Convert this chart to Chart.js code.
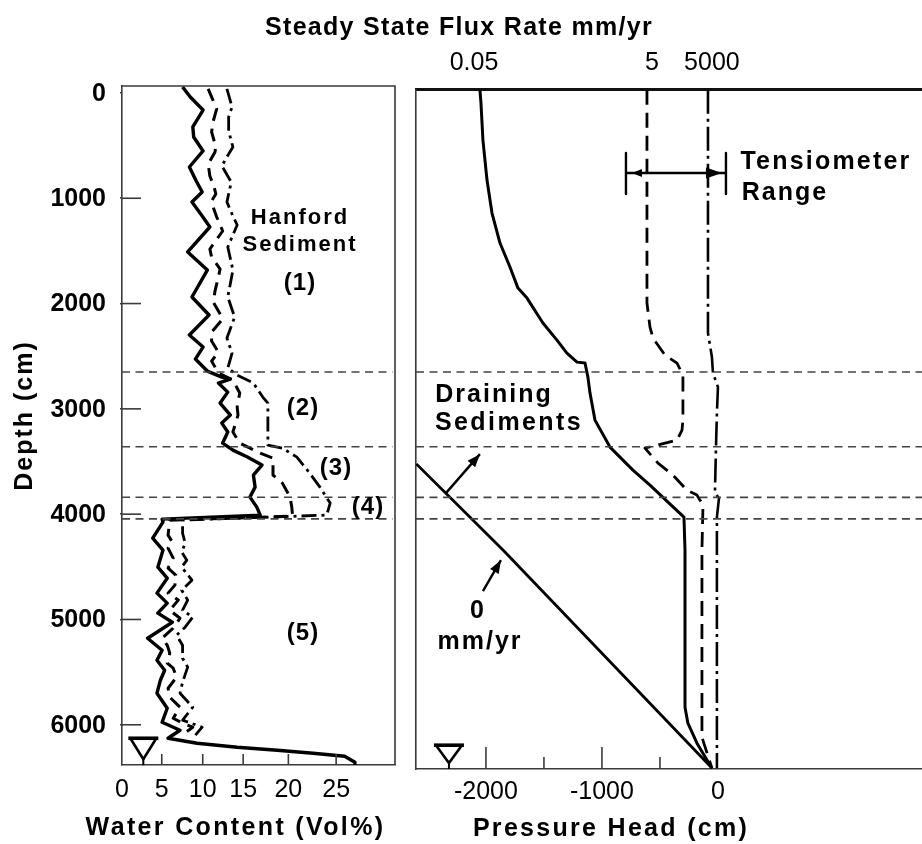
<!DOCTYPE html>
<html>
<head>
<meta charset="utf-8">
<style>
html,body{margin:0;padding:0;background:#fff;width:922px;height:844px;overflow:hidden}
canvas{position:absolute;left:0;top:0}
</style>
<script src="https://cdn.jsdelivr.net/npm/chart.js@4/dist/chart.umd.js"></script>
</head>
<body>
<canvas id="left" width="922" height="844"></canvas>
<canvas id="right" width="922" height="844"></canvas>
<script>
// ---- Left panel: water content (vol%) against depth (cm)
const wcLow = [7.1,8.0,9.5,8.3,8.4,9.5,7.9,8.7,9.4,8.2,9.4,10.3,7.7,10.0,8.2,10.2,7.9,9.5,8.6,10.0,11.7,12.7,11.3,12.4,11.5,12.7,11.7,12.4,11.8,13.0,14.7,16.4,15.4,15.6,15.0,15.8,16.2,4.7,4.8,3.6,4.8,4.2,5.3,4.1,5.3,4.2,5.9,3.0,4.7,4.1,5.0,4.5,4.1,5.3,4.7,6.8,5.4,8.8,13.5,18.2,22.4,26.1,27.3,27.3];
const depthLow = [-57,38,162,323,418,551,703,836,941,1036,1169,1273,1510,1682,1938,2109,2299,2413,2527,2641,2698,2717,2755,2841,2945,3059,3135,3220,3325,3392,3458,3534,3629,3743,3838,3933,4009,4047,4076,4228,4342,4503,4608,4750,4845,4940,5026,5178,5292,5387,5482,5577,5700,5843,5976,6052,6128,6175,6213,6242,6270,6299,6356,6384];
const wcMid = [10.1,10.7,11.1,10.7,10.5,11.0,10.9,10.1,10.3,10.8,11.0,10.5,10.8,11.1,11.8,11.3,10.3,10.5,11.5,11.3,10.9,10.7,11.5,11.8,10.5,10.5,11.3,10.5,11.3,13.0,13.8,13.5,13.6,13.0,13.8,15.0,16.2,17.7,17.7,18.8,19.7,19.9,20.0,5.6,5.4,5.9,5.4,6.0,5.4,6.3,6.2,5.4,6.6,5.6,6.8,6.0,4.7,5.3,5.6,5.3,6.0,6.4,5.4,5.6,6.8,6.0,7.1,8.3,7.0];
const depthMid = [-38,76,152,266,370,513,560,675,789,893,960,1026,1112,1178,1311,1368,1482,1558,1672,1748,1881,1986,2100,2147,2271,2356,2461,2546,2660,2727,2850,2983,3059,3220,3325,3373,3420,3468,3629,3705,3838,3933,4019,4057,4199,4266,4322,4418,4513,4579,4674,4750,4816,4912,4988,5083,5178,5244,5320,5415,5463,5548,5653,5738,5833,5938,5985,6023,6099];
const wcHigh = [12.3,12.9,12.5,12.5,13.0,12.3,11.7,12.8,12.3,12.9,13.5,12.4,13.0,12.4,13.2,12.3,12.9,12.4,13.5,15.4,16.5,17.1,17.1,18.8,20.5,22.0,23.2,24.4,24.0,7.1,7.1,7.4,7.0,7.6,7.0,8.2,7.0,7.7,7.1,8.3,7.4,6.4,7.1,7.1,7.7,7.1,6.8,8.3,7.1,9.4,8.6];
const depthHigh = [-38,133,228,361,513,608,693,846,1036,1150,1254,1463,1682,1938,2128,2328,2470,2613,2679,2755,2888,2945,3344,3373,3458,3610,3743,3895,4009,4057,4180,4275,4360,4437,4503,4627,4722,4816,4912,4978,5073,5149,5244,5368,5453,5596,5700,5833,5956,6023,6099];

// ---- Right panel: pressure head (cm) against depth (cm)
const headLow = [-2052,-2043,-2026,-1991,-1948,-1879,-1793,-1724,-1646,-1509,-1388,-1302,-1215,-1146,-1121,-1103,-1060,-931,-733,-586,-431,-293,-284,-284,-259,-181,-52];
const headLowDepth = [-30,95,447,827,1140,1425,1653,1853,1948,2185,2347,2470,2556,2565,2698,2850,3107,3363,3582,3724,3886,4028,4342,5833,5985,6175,6413];
const headMid = [-612,-612,-586,-560,-457,-353,-302,-302,-310,-353,-629,-517,-388,-267,-181,-129,-138,-138,-52];
const headMidDepth = [-30,1995,2223,2328,2489,2565,2679,3107,3202,3297,3373,3515,3629,3772,3819,3914,4342,6118,6413];
const headHigh = [-86,-86,-52,-43,0,-9,-17,-26,9,-9,-9];
const headHighDepth = [-30,2280,2508,2660,2793,3040,3363,3800,3848,4028,6413];
const headZero = [-2600,-1853,-52];
const headZeroDepth = [3523,4340,6410];

// ---- Shared features
const layerDepths = [2650,3360,3840,4045];
const depthTicks = [0,1000,2000,3000,4000,5000,6000];
const depthLabels = ['0','1000','2000','3000','4000','5000','6000'];
const wcTickPositions = [0,4.66,9.46,14.2,19.5,25.1];
const wcTickLabels = ['0','5','10','15','20','25'];
const headTicks = [-2000,-1500,-1000,-500,0];
const headTickLabels = {'-2000':'-2000','-1000':'-1000','0':'0'};
const fluxTickPositions = [-2103,-569,-52];
const fluxTickLabels = ['0.05','5','5000'];
const tensiometerRange = [-793,69];
const tensiometerDepth = [570,760,960];
const drainArrowHead = [-2345,-2052];
const drainArrowDepth = [3800,3430];
const zeroArrowHead = [-2026,-1871];
const zeroArrowDepth = [4731,4437];

// Scale limits follow the frame drawn in the picture
const wcMin = 0, wcMax = 32;
const leftDepthMin = -66, leftDepthMax = 6382;
const headMin = -2603, headMax = 1759;
const rightDepthMin = -33, rightDepthMax = 6420;

const INK = '#000';
const FRAME = '#3a3a3a';
const FONT = '"Liberation Sans", Arial, sans-serif';
const dashStyle = [13,8];
const dashDot = [15,5,3,5];
const dashDotLong = [24,5,3,5];

const zip = (xs,ys) => xs.map((x,i)=>({x,y:ys[i]}));
const curve = (xs,ys,width,dash) => ({
  data: zip(xs,ys), borderColor: INK, borderWidth: width, borderDash: dash||[],
  pointRadius: 0, tension: 0, borderJoinStyle: 'round', borderCapStyle: 'butt', fill: false
});
const layerLines = (a,b) => layerDepths.map(d => ({
  data: [{x:a,y:d},{x:b,y:d}], borderColor:'#444', borderWidth:1.6, borderDash:[8,5.5],
  pointRadius:0, tension:0, fill:false
}));

// Spaced, shifted axis titles (no squeezing to the panel width)
const origDrawTitle = Chart.Scale.prototype.drawTitle;
Chart.Scale.prototype.drawTitle = function(){
  const c = this.ctx, t = this.options.title;
  c.save();
  c.translate(t.shiftX||0, t.shiftY||0);
  c.letterSpacing = (t.spacing||0)+'px';
  c.fillText = (s,x,y) => CanvasRenderingContext2D.prototype.fillText.call(c,s,x,y);
  origDrawTitle.apply(this, arguments);
  delete c.fillText;
  c.restore();
};

function label(c,text,x,y,size,spacing,weight){
  c.save();
  c.font = (weight||'bold')+' '+size+'px '+FONT;
  c.letterSpacing = (spacing||0)+'px';
  c.textAlign='center'; c.textBaseline='middle'; c.fillStyle=INK;
  c.fillText(text,x,y);
  c.restore();
}
function inwardTicksX(chart,scale,lenFn){
  const c=chart.ctx, b=chart.chartArea.bottom;
  c.save(); c.strokeStyle=FRAME; c.lineWidth=1.6;
  scale.ticks.forEach((t,i)=>{
    const len=lenFn(t.value,i); if(!len) return;
    const x=scale.getPixelForValue(t.value);
    c.beginPath(); c.moveTo(x,b); c.lineTo(x,b-len); c.stroke();
  });
  c.restore();
}
function waterMark(chart,xVal,topDepth,botDepth,half){
  const c=chart.ctx, x=chart.scales.x.getPixelForValue(xVal),
        t=chart.scales.y.getPixelForValue(topDepth), b=chart.scales.y.getPixelForValue(botDepth);
  c.save(); c.strokeStyle=INK; c.lineJoin='miter';
  c.lineWidth=2.6;
  c.beginPath(); c.moveTo(x-half+2,t); c.lineTo(x,b-6); c.lineTo(x+half-2,t); c.stroke();
  c.lineWidth=3.6;
  c.beginPath(); c.moveTo(x-half,t); c.lineTo(x+half,t); c.stroke();
  c.lineWidth=2;
  c.beginPath(); c.moveTo(x,b-8); c.lineTo(x,b); c.stroke();
  c.restore();
}
function arrowHead(c,x0,y0,x1,y1,len,wid){
  const a=Math.atan2(y1-y0,x1-x0);
  c.beginPath(); c.moveTo(x1,y1);
  c.lineTo(x1-len*Math.cos(a)+wid*Math.sin(a), y1-len*Math.sin(a)-wid*Math.cos(a));
  c.lineTo(x1-len*Math.cos(a)-wid*Math.sin(a), y1-len*Math.sin(a)+wid*Math.cos(a));
  c.closePath(); c.fill();
}

const leftDecor = {
  id:'leftDecor',
  afterDatasetsDraw(chart){
    const c=chart.ctx,a=chart.chartArea;
    c.save(); c.strokeStyle=FRAME; c.lineWidth=1.6;
    c.beginPath(); c.moveTo(a.left,a.top); c.lineTo(a.right,a.top); c.lineTo(a.right,a.bottom); c.stroke();
    c.restore();
    inwardTicksX(chart,chart.scales.x,(v,i)=>i===0?0:11);
    const ys=chart.scales.y;
    c.save(); c.strokeStyle=FRAME; c.lineWidth=1.6;
    ys.ticks.forEach(t=>{
      if(t.value===0) return;
      const y=ys.getPixelForValue(t.value);
      c.beginPath(); c.moveTo(a.left,y); c.lineTo(a.left+19,y); c.stroke();
    });
    c.restore();
    waterMark(chart,2.5,6128,6384,15);
    label(c,'Hanford',300,218,22,2);
    label(c,'Sediment',300,245,22,2);
    label(c,'(1)',300,283,24,1);
    label(c,'(2)',303,408,24,1);
    label(c,'(3)',336,468,24,1);
    label(c,'(4)',368,507,24,1);
    label(c,'(5)',303,633,24,1);
  }
};
const rightDecor = {
  id:'rightDecor',
  afterDatasetsDraw(chart){
    const c=chart.ctx, X=chart.scales.x, Y=chart.scales.y;
    inwardTicksX(chart,X,v=>v===0?0:(v%1000===0?22:12));
    waterMark(chart,-2319,6194,6420,15);
    c.save(); c.fillStyle=INK;
    const ty=Y.getPixelForValue(tensiometerDepth[1]);
    const lx=X.getPixelForValue(tensiometerRange[0]), rx=X.getPixelForValue(tensiometerRange[1]);
    arrowHead(c,rx,ty,lx+6,ty,10,4);
    arrowHead(c,lx,ty,rx-4,ty,16,5.5);
    arrowHead(c,X.getPixelForValue(drainArrowHead[0]),Y.getPixelForValue(drainArrowDepth[0]),
                X.getPixelForValue(drainArrowHead[1]),Y.getPixelForValue(drainArrowDepth[1]),13,5);
    arrowHead(c,X.getPixelForValue(zeroArrowHead[0]),Y.getPixelForValue(zeroArrowDepth[0]),
                X.getPixelForValue(zeroArrowHead[1]),Y.getPixelForValue(zeroArrowDepth[1]),13,5);
    c.restore();
    label(c,'Steady State Flux Rate mm/yr',459,28,25,1.3);
    label(c,'Tensiometer',826,162,25,2.2);
    label(c,'Range',785,193,25,2);
    label(c,'Draining',494,395,25,2);
    label(c,'Sediments',509,423,25,2.4);
    label(c,'0',478,611,25,2);
    label(c,'mm/yr',480,642,25,2);
  }
};

const common = {
  responsive:false, animation:false,
  plugins:{legend:{display:false},tooltip:{enabled:false},title:{display:false}},
  elements:{line:{capBezierPoints:false}}
};

new Chart(document.getElementById('left'),{
  type:'scatter',
  data:{datasets:[
    ...layerLines(wcMin,31.7),
    {...curve(wcHigh,depthHigh,2.8,dashDot),label:'5000 mm/yr'},
    {...curve(wcMid,depthMid,3,dashStyle),label:'5 mm/yr'},
    {...curve(wcLow,depthLow,3.4),label:'0.05 mm/yr'}
  ].map(d=>({...d,showLine:true}))},
  options:{...common,
    layout:{padding:{top:86,right:527,left:0,bottom:0}},
    scales:{
      x:{type:'linear',min:wcMin,max:wcMax,
        afterFit:s=>{s.height=79;},
        afterBuildTicks:s=>{s.ticks=wcTickPositions.map(v=>({value:v}));},
        grid:{drawOnChartArea:false,drawTicks:false},
        border:{display:true,color:FRAME,width:1.6},
        ticks:{autoSkip:false,maxRotation:0,padding:10,color:INK,font:{family:FONT,size:25},
          callback:(v,i)=>wcTickLabels[i]},
        title:{display:true,text:'Water Content (Vol%)',color:INK,font:{family:FONT,size:25,weight:'bold'},
          padding:{top:0,bottom:1},shiftX:-23,spacing:2.35}
      },
      y:{type:'linear',reverse:true,min:leftDepthMin,max:leftDepthMax,
        afterFit:s=>{s.width=122;},
        afterBuildTicks:s=>{s.ticks=depthTicks.map(v=>({value:v}));},
        grid:{drawOnChartArea:false,drawTicks:true,tickLength:2,color:FRAME,lineWidth:1.6},
        border:{display:true,color:FRAME,width:1.6},
        ticks:{autoSkip:false,padding:14,labelOffset:1,color:INK,font:{family:FONT,size:25,weight:'bold'},
          callback:(v,i)=>depthLabels[i]},
        title:{display:true,text:'Depth (cm)',color:INK,font:{family:FONT,size:25,weight:'bold'},
          padding:{top:10,bottom:0},shiftY:-10,spacing:2}
      }
    }
  },
  plugins:[leftDecor]
});

new Chart(document.getElementById('right'),{
  type:'scatter',
  data:{datasets:[
    ...layerLines(headMin,headMax),
    {...curve(tensiometerRange,[tensiometerDepth[1],tensiometerDepth[1]],2.4)},
    {...curve([tensiometerRange[0],tensiometerRange[0]],[tensiometerDepth[0],tensiometerDepth[2]],2.4)},
    {...curve([tensiometerRange[1],tensiometerRange[1]],[tensiometerDepth[0],tensiometerDepth[2]],2.4)},
    {...curve(drainArrowHead,drainArrowDepth,2.4)},
    {...curve(zeroArrowHead,zeroArrowDepth,2.4)},
    {...curve(headZero,headZeroDepth,2.8),label:'0 mm/yr'},
    {...curve(headHigh,headHighDepth,2.6,dashDotLong),label:'5000 mm/yr'},
    {...curve(headMid,headMidDepth,2.8,[15,8]),label:'5 mm/yr'},
    {...curve(headLow,headLowDepth,3),label:'0.05 mm/yr'}
  ].map(d=>({...d,showLine:true}))},
  options:{...common,
    layout:{padding:{left:416,right:0,top:0,bottom:0}},
    scales:{
      x:{type:'linear',min:headMin,max:headMax,
        afterFit:s=>{s.height=75;},
        afterBuildTicks:s=>{s.ticks=headTicks.map(v=>({value:v}));},
        grid:{drawOnChartArea:false,drawTicks:false},
        border:{display:true,color:FRAME,width:1.6},
        ticks:{autoSkip:false,maxRotation:0,padding:8,color:INK,font:{family:FONT,size:25},
          callback:v=>headTickLabels[v]||''},
        title:{display:true,text:'Pressure Head (cm)',color:INK,font:{family:FONT,size:25,weight:'bold'},
          padding:{top:0,bottom:0},shiftX:-58,spacing:2.3}
      },
      x2:{type:'linear',position:'top',min:headMin,max:headMax,
        afterFit:s=>{s.height=89.5;},
        afterBuildTicks:s=>{s.ticks=fluxTickPositions.map(v=>({value:v}));},
        grid:{drawOnChartArea:false,drawTicks:false},
        border:{display:true,color:'#111',width:3},
        ticks:{autoSkip:false,maxRotation:0,padding:11,color:INK,font:{family:FONT,size:25},
          callback:(v,i)=>fluxTickLabels[i]}
      },
      y:{type:'linear',reverse:true,min:rightDepthMin,max:rightDepthMax,
        afterFit:s=>{s.width=0;},
        ticks:{display:false},grid:{drawOnChartArea:false,drawTicks:false},
        border:{display:true,color:FRAME,width:1.6}
      }
    }
  },
  plugins:[rightDecor]
});
</script>
</body>
</html>
